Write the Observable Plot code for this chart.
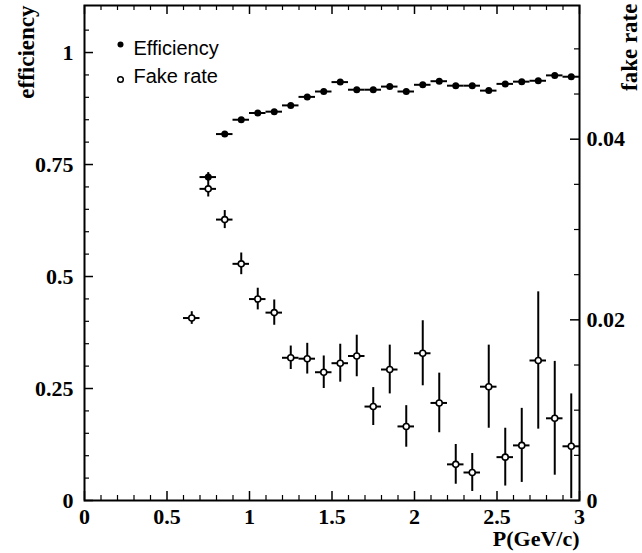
<!DOCTYPE html>
<html><head><meta charset="utf-8">
<script src="https://cdn.jsdelivr.net/npm/d3@7"></script>
<script src="https://cdn.jsdelivr.net/npm/@observablehq/plot@0.6"></script>
<style>body{margin:0;background:#fff}</style>
</head><body><div id="chart"></div>
<script>
// ---- data ----
const effMomentum = [0.75,0.85,0.95,1.05,1.15,1.25,1.35,1.45,1.55,1.65,1.75,1.85,1.95,2.05,2.15,2.25,2.35,2.45,2.55,2.65,2.75,2.85,2.95];
const efficiency  = [0.722,0.818,0.850,0.865,0.868,0.882,0.901,0.913,0.934,0.917,0.917,0.924,0.913,0.928,0.936,0.926,0.926,0.915,0.930,0.935,0.937,0.949,0.946];
const effError    = [0.010,0.005,0.004,0.004,0.004,0.004,0.004,0.004,0.004,0.004,0.004,0.004,0.004,0.004,0.004,0.004,0.004,0.004,0.004,0.004,0.004,0.004,0.004];
const fakeMomentum = [0.65,0.75,0.85,0.95,1.05,1.15,1.25,1.35,1.45,1.55,1.65,1.75,1.85,1.95,2.05,2.15,2.25,2.35,2.45,2.55,2.65,2.75,2.85,2.95];
const fakeRate  = [0.0202,0.0345,0.0311,0.0262,0.0223,0.0208,0.0158,0.0157,0.0142,0.0152,0.0160,0.0104,0.0145,0.0082,0.0163,0.0108,0.0040,0.0031,0.0126,0.0048,0.0061,0.0155,0.0091,0.0060];
const fakeError = [0.0007,0.0009,0.0010,0.0012,0.0012,0.0014,0.0013,0.0017,0.0018,0.0021,0.0023,0.0021,0.0027,0.0023,0.0036,0.0033,0.0022,0.0021,0.0046,0.0032,0.0041,0.0076,0.0063,0.0058];
const binHalfWidth = 0.05;

const xTicks = [0,0.5,1,1.5,2,2.5,3];
const xTickLabels = ["0","0.5","1","1.5","2","2.5","3"];
const xMinorTicks = [0.1,0.2,0.3,0.4,0.6,0.7,0.8,0.9,1.1,1.2,1.3,1.4,1.6,1.7,1.8,1.9,2.1,2.2,2.3,2.4,2.6,2.7,2.8,2.9];
const yTicks = [0,0.25,0.5,0.75,1];
const yTickLabels = ["0","0.25","0.5","0.75","1"];
const yMinorTicks = [0.05,0.1,0.15,0.2,0.3,0.35,0.4,0.45,0.55,0.6,0.65,0.7,0.8,0.85,0.9,0.95,1.05];
const rTicks = [0,0.02,0.04];
const rTickLabels = ["0","0.02","0.04"];
const rMinorTicks = [0.005,0.01,0.015,0.025,0.03,0.035,0.045,0.05];
const legendLabels = ["Efficiency","Fake rate"];

const yMax = 1.105, rMax = 0.0548;
const K = yMax / rMax; // right-axis units -> left-axis units

// ---- tables ----
const effData = effMomentum.map((p,i) => ({p, v: efficiency[i], e: effError[i]}));
const fakeData = fakeMomentum.map((p,i) => ({p, v: fakeRate[i]*K, e: fakeError[i]*K}));

const W = 642, H = 553, mL = 84, mR = 63, mT = 5, mB = 53;
const iW = W - mL - mR, iH = H - mT - mB;
const serif = "Liberation Serif, Times New Roman, serif";
const sans = "Liberation Sans, Arial, sans-serif";
const lab = {fontFamily: serif, fontWeight: "bold", fontSize: 22, fill: "black"};
const major = 9, minor = 5;

const chart = Plot.plot({
  width: W, height: H,
  marginLeft: mL, marginRight: mR, marginTop: mT, marginBottom: mB,
  style: {background: "white", color: "black"},
  x: {domain: [0, 3], axis: null},
  y: {domain: [0, yMax], axis: null},
  marks: [
    // ticks (inward)
    Plot.tickX(xTicks, {x: d => d, insetTop: iH - major, strokeWidth: 1.5}),
    Plot.tickX(xMinorTicks, {x: d => d, insetTop: iH - minor, strokeWidth: 1.2}),
    Plot.tickX(xTicks, {x: d => d, insetBottom: iH - major, strokeWidth: 1.5}),
    Plot.tickX(xMinorTicks, {x: d => d, insetBottom: iH - minor, strokeWidth: 1.2}),
    Plot.tickY(yTicks, {y: d => d, insetRight: iW - major, strokeWidth: 1.5}),
    Plot.tickY(yMinorTicks, {y: d => d, insetRight: iW - minor, strokeWidth: 1.2}),
    Plot.tickY(rTicks, {y: d => d * K, insetLeft: iW - major, strokeWidth: 1.5}),
    Plot.tickY(rMinorTicks, {y: d => d * K, insetLeft: iW - minor, strokeWidth: 1.2}),
    Plot.frame({stroke: "black", strokeWidth: 2}),
    // tick labels
    Plot.axisX(xTicks, {tickSize: 0, tickPadding: 8, label: null, tickFormat: d => xTickLabels[xTicks.indexOf(d)], ...lab}),
    Plot.axisY(yTicks, {anchor: "left", tickSize: 0, tickPadding: 11, label: null, tickFormat: d => yTickLabels[yTicks.indexOf(d)], ...lab}),
    Plot.axisY(rTicks.map(d => d * K), {anchor: "right", tickSize: 0, tickPadding: 7, label: null,
      tickFormat: d => rTickLabels[rTicks.findIndex(v => Math.abs(v * K - d) < 1e-9)], ...lab}),
    // axis titles
    Plot.text(["efficiency"], {text: d => d, frameAnchor: "top-left", lineAnchor: "middle", dx: -58, dy: 0, rotate: -90, textAnchor: "end",
      fontFamily: serif, fontWeight: "bold", fontSize: 23, fill: "black"}),
    Plot.text(["fake rate"], {text: d => d, frameAnchor: "top-right", lineAnchor: "middle", dx: 50, dy: -2, rotate: -90, textAnchor: "end",
      fontFamily: serif, fontWeight: "bold", fontSize: 23, fill: "black"}),
    Plot.text(["P(GeV/c)"], {text: d => d, frameAnchor: "bottom-right", lineAnchor: "middle", dx: 0, dy: 38, textAnchor: "end",
      fontFamily: serif, fontWeight: "bold", fontSize: 22, fill: "black"}),
    // efficiency
    Plot.ruleY(effData, {y: "v", x1: d => d.p - binHalfWidth, x2: d => d.p + binHalfWidth, strokeWidth: 2}),
    Plot.ruleX(effData, {x: "p", y1: d => d.v - d.e, y2: d => d.v + d.e, strokeWidth: 2}),
    Plot.dot(effData, {x: "p", y: "v", r: 3.5, fill: "black", stroke: "none"}),
    // fake rate
    Plot.ruleY(fakeData, {y: "v", x1: d => d.p - binHalfWidth, x2: d => d.p + binHalfWidth, strokeWidth: 2}),
    Plot.ruleX(fakeData, {x: "p", y1: d => Math.max(0, d.v - d.e), y2: d => d.v + d.e, strokeWidth: 2}),
    Plot.dot(fakeData, {x: "p", y: "v", r: 3, fill: "white", stroke: "black", strokeWidth: 1.6}),
    // legend
    Plot.dot([legendLabels[0]], {frameAnchor: "top-left", dx: 36, dy: 39, r: 3, fill: "black", stroke: "none"}),
    Plot.dot([legendLabels[1]], {frameAnchor: "top-left", dx: 36, dy: 74, r: 2.8, fill: "white", stroke: "black", strokeWidth: 1.5}),
    Plot.text([legendLabels[0]], {text: d => d, frameAnchor: "top-left", lineAnchor: "middle", dx: 49, dy: 43.5, textAnchor: "start",
      fontFamily: sans, fontSize: 20, fill: "black"}),
    Plot.text([legendLabels[1]], {text: d => d, frameAnchor: "top-left", lineAnchor: "middle", dx: 49, dy: 71.5, textAnchor: "start",
      fontFamily: sans, fontSize: 20, fill: "black"})
  ]
});
document.getElementById("chart").appendChild(chart);
</script>
</body></html>
